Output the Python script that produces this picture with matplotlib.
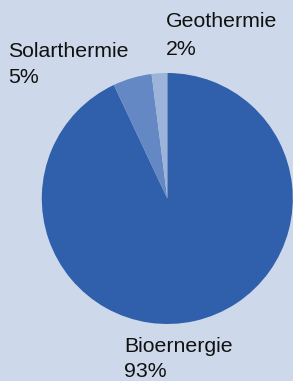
import matplotlib
matplotlib.use("Agg")
import matplotlib.pyplot as plt

categories = ["Bioernergie", "Solarthermie", "Geothermie"]
values = [93, 5, 2]
pct_labels = ["93%", "5%", "2%"]
colors = ["#3060ab", "#6388c4", "#9db3da"]
bg = "#cdd8ea"

W, H = 293, 381
fig = plt.figure(figsize=(W / 100, H / 100), dpi=100, facecolor=bg)
cx, cy, r = 167.3, 198.5, 125.5
ax = fig.add_axes([(cx - r) / W, (H - cy - r) / H, 2 * r / W, 2 * r / H])
ax.set_facecolor(bg)
ax.pie(values, colors=colors, startangle=90, counterclock=False, radius=1,
       wedgeprops=dict(linewidth=0))
ax.set_xlim(-1, 1)
ax.set_ylim(-1, 1)
ax.set_aspect("auto")
ax.axis("off")

# label placements (pixel left x, baseline y for name and percentage)
label_pos = {
    "Geothermie": (166, 26.7, 55),
    "Solarthermie": (8, 56.7, 83.3),
    "Bioernergie": (124, 351.7, 376.7),
}
fs = 15.3
for cat, pct in zip(categories, pct_labels):
    x, y1, y2 = label_pos[cat]
    fig.text(x / W, 1 - y1 / H, cat, fontsize=fs, family="Liberation Sans",
             color="#111111", ha="left", va="baseline")
    fig.text(x / W, 1 - y2 / H, pct, fontsize=fs, family="Liberation Sans",
             color="#111111", ha="left", va="baseline")

fig.savefig("out.png", dpi=100, facecolor=bg)
